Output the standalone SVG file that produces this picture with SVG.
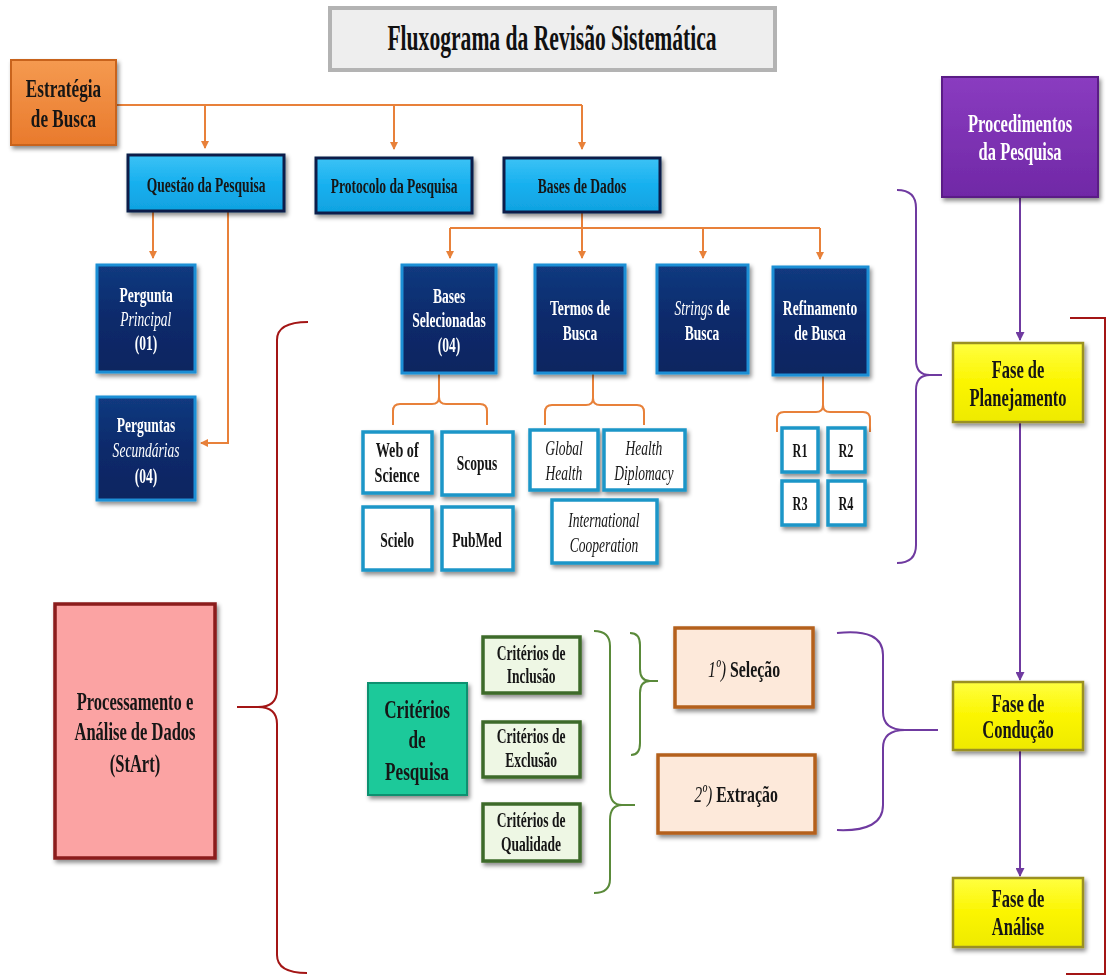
<svg xmlns="http://www.w3.org/2000/svg" width="1108" height="977" viewBox="0 0 1108 977">
<style>
.t{font-family:"Liberation Serif","Times New Roman",serif;font-weight:bold;text-anchor:middle;fill:#151515;transform-box:fill-box;transform-origin:center;transform:scaleX(0.66)}
.ti{font-family:"Liberation Serif","Times New Roman",serif;font-weight:bold;text-anchor:middle;fill:#111;font-size:36px;transform-box:fill-box;transform-origin:center;transform:scaleX(0.6)}
.w{fill:#fff}
.it{font-style:italic;font-weight:normal}
.s19{font-size:20.5px}.s20{font-size:21.5px}.s22{font-size:24px}.s23{font-size:25px}.s24{font-size:26px}.s17{font-size:18.5px}
.cyan{fill:url(#gCyan);stroke:#0b1f4a;stroke-width:3}
.navy{fill:url(#gNavy);stroke:#1d8fd5;stroke-width:3}
.wb{fill:#fff;stroke:#1e96c8;stroke-width:3.5}
.yel{fill:url(#gYel);stroke:#9a9020;stroke-width:2.5}
.grn{fill:#eef7e4;stroke:#3d6b2a;stroke-width:3.5}
.pch{fill:#fde9da;stroke:#b4601c;stroke-width:3.5}
.oc{fill:none;stroke:#e8813a;stroke-width:2}
.pc{fill:none;stroke:#6f3aa0;stroke-width:2}
.rc{fill:none;stroke:#a31515;stroke-width:2}
.gc{fill:none;stroke:#5a8a3a;stroke-width:2}
</style>
<defs>
<filter id="sh" x="-20%" y="-20%" width="150%" height="150%"><feDropShadow dx="2" dy="3" stdDeviation="2" flood-color="#000" flood-opacity="0.45"/></filter>
<linearGradient id="gCyan" x1="0" y1="0" x2="0" y2="1"><stop offset="0" stop-color="#3cc2f5"/><stop offset="0.5" stop-color="#17b0ef"/><stop offset="1" stop-color="#10a2e0"/></linearGradient>
<linearGradient id="gNavy" x1="0" y1="0" x2="0" y2="1"><stop offset="0" stop-color="#123a80"/><stop offset="0.5" stop-color="#0c2a6b"/><stop offset="1" stop-color="#0a2560"/></linearGradient>
<linearGradient id="gYel" x1="0" y1="0" x2="0" y2="1"><stop offset="0" stop-color="#ffff40"/><stop offset="0.5" stop-color="#fbf500"/><stop offset="1" stop-color="#eeea00"/></linearGradient>
<linearGradient id="gOr" x1="0" y1="0" x2="0" y2="1"><stop offset="0" stop-color="#f59a50"/><stop offset="1" stop-color="#e97a2c"/></linearGradient>
<linearGradient id="gPur" x1="0" y1="0" x2="0" y2="1"><stop offset="0" stop-color="#8a3cc0"/><stop offset="1" stop-color="#7028a6"/></linearGradient>
<marker id="ao" markerWidth="8" markerHeight="8" refX="7" refY="4" orient="auto" markerUnits="userSpaceOnUse"><path d="M0,0 L8,4 L0,8 Z" fill="#e8813a"/></marker>
<marker id="ap" markerWidth="9" markerHeight="9" refX="8" refY="4.5" orient="auto" markerUnits="userSpaceOnUse"><path d="M0,0 L9,4.5 L0,9 Z" fill="#6f3aa0"/></marker>
</defs>
<rect width="1108" height="977" fill="#fff"/>

<g id="connectors">
<path class="oc" d="M116,105 H582"/>
<path class="oc" d="M205,105 V148" marker-end="url(#ao)"/>
<path class="oc" d="M394,105 V149" marker-end="url(#ao)"/>
<path class="oc" d="M582,105 V149" marker-end="url(#ao)"/>
<path class="oc" d="M153,211 V258" marker-end="url(#ao)"/>
<path class="oc" d="M228,211 V443 H201" marker-end="url(#ao)"/>
<path class="oc" d="M582,212 V228"/>
<path class="oc" d="M450,228 H820"/>
<path class="oc" d="M450,228 V258" marker-end="url(#ao)"/>
<path class="oc" d="M582,228 V258" marker-end="url(#ao)"/>
<path class="oc" d="M703,228 V258" marker-end="url(#ao)"/>
<path class="oc" d="M820,228 V259" marker-end="url(#ao)"/>
<path class="oc" d="M393,425 V411 Q393,404 400,404 H432 Q439,404 439,397 V374 M439,397 Q439,404 446,404 H480 Q487,404 487,411 V425"/>
<path class="oc" d="M545,425 V412 Q545,405 552,405 H586 Q593,405 593,398 V374 M593,398 Q593,405 600,405 H637 Q644,405 644,412 V425"/>
<path class="oc" d="M777,432 V419 Q777,412 784,412 H816 Q823,412 823,405 V376 M823,405 Q823,412 830,412 H863 Q870,412 870,419 V432"/>
<path class="pc" d="M1020,197 V340" marker-end="url(#ap)"/>
<path class="pc" d="M1020,422 V680" marker-end="url(#ap)"/>
<path class="pc" d="M1020,750 V876" marker-end="url(#ap)"/>
<path class="pc" d="M897,190 Q916,190 916,208 V360 Q916,375 930,375 H942 M930,375 Q916,375 916,390 V545 Q916,563 897,563"/>
<path class="pc" d="M837,633 Q883,628 883,655 V712 Q883,730 905,730 H938 M905,730 Q883,730 883,748 V805 Q883,832 837,830"/>
<path class="rc" d="M308,322 Q277,322 277,340 V690 Q277,707 258,707 H237 M258,707 Q277,707 277,724 V955 Q277,973 307,973"/>
<path class="rc" d="M1070,318 H1105 V974 H1066"/>
<path class="gc" d="M594,631 Q610,631 610,646 V790 Q610,805 622,805 H635 M622,805 Q610,805 610,820 V879 Q610,893 594,893"/>
<path class="gc" d="M630,633 Q640,633 640,645 V669 Q640,681 650,681 H658 M650,681 Q640,681 640,693 V743 Q640,755 631,755"/>
</g>

<g id="title">
<rect x="330" y="8" width="445" height="62" fill="#eeeeee" stroke="#b3b3b3" stroke-width="4"/>
<text class="ti" x="552" y="50">Fluxograma da Revisão Sistemática</text>
</g>

<g id="estrategia" filter="url(#sh)">
<rect x="11" y="60" width="105" height="85" fill="url(#gOr)" stroke="#c8641e" stroke-width="2"/>
<text class="t s24" x="63.5" y="97">Estratégia</text>
<text class="t s24" x="63.5" y="127">de Busca</text>
</g>

<g id="questao" filter="url(#sh)">
<rect class="cyan" x="128" y="155" width="156" height="56"/>
<text class="t s19" x="206" y="192">Questão da Pesquisa</text>
</g>
<g id="protocolo" filter="url(#sh)">
<rect class="cyan" x="316" y="158" width="156" height="55"/>
<text class="t s19" x="394" y="193">Protocolo da Pesquisa</text>
</g>
<g id="basesdados" filter="url(#sh)">
<rect class="cyan" x="504" y="158" width="156" height="54"/>
<text class="t s19" x="582" y="193">Bases de Dados</text>
</g>

<g id="procedimentos" filter="url(#sh)">
<rect x="942" y="77" width="156" height="120" fill="url(#gPur)" stroke="#5a1f86" stroke-width="2"/>
<text class="t s23 w" x="1020" y="132">Procedimentos</text>
<text class="t s23 w" x="1020" y="160">da Pesquisa</text>
</g>

<g id="pergunta-principal" filter="url(#sh)">
<rect class="navy" x="97" y="265" width="98" height="107"/>
<text class="t s19 w" x="146" y="302">Pergunta</text>
<text class="t s19 w it" x="146" y="326">Principal</text>
<text class="t s19 w" x="146" y="350">(01)</text>
</g>
<g id="perguntas-secundarias" filter="url(#sh)">
<rect class="navy" x="97" y="397" width="98" height="103"/>
<text class="t s19 w" x="146" y="432">Perguntas</text>
<text class="t s19 w it" x="146" y="457">Secundárias</text>
<text class="t s19 w" x="146" y="483">(04)</text>
</g>

<g id="bases-selecionadas" filter="url(#sh)">
<rect class="navy" x="402" y="265" width="94" height="108"/>
<text class="t s19 w" x="449" y="303">Bases</text>
<text class="t s19 w" x="449" y="327">Selecionadas</text>
<text class="t s19 w" x="449" y="352">(04)</text>
</g>
<g id="termos" filter="url(#sh)">
<rect class="navy" x="535" y="265" width="90" height="108"/>
<text class="t s19 w" x="580" y="315">Termos de</text>
<text class="t s19 w" x="580" y="340">Busca</text>
</g>
<g id="strings" filter="url(#sh)">
<rect class="navy" x="657" y="265" width="91" height="108"/>
<text class="t s19 w" x="702" y="315"><tspan class="it">Strings</tspan> de</text>
<text class="t s19 w" x="702" y="340">Busca</text>
</g>
<g id="refinamento" filter="url(#sh)">
<rect class="navy" x="773" y="267" width="95" height="108"/>
<text class="t s19 w" x="820" y="315">Refinamento</text>
<text class="t s19 w" x="820" y="340">de Busca</text>
</g>

<g id="web-of-science" filter="url(#sh)">
<rect class="wb" x="363" y="432" width="69" height="61"/>
<text class="t s20" x="397" y="457">Web of</text>
<text class="t s20" x="397" y="482">Science</text>
</g>
<g id="scopus" filter="url(#sh)">
<rect class="wb" x="442" y="432" width="71" height="63"/>
<text class="t s19" x="477" y="470">Scopus</text>
</g>
<g id="scielo" filter="url(#sh)">
<rect class="wb" x="363" y="507" width="69" height="63"/>
<text class="t s19" x="397" y="547">Scielo</text>
</g>
<g id="pubmed" filter="url(#sh)">
<rect class="wb" x="442" y="507" width="71" height="63"/>
<text class="t s19" x="477" y="547">PubMed</text>
</g>

<g id="global-health" filter="url(#sh)">
<rect class="wb" x="530" y="430" width="68" height="60"/>
<text class="t s19 it" x="564" y="455">Global</text>
<text class="t s19 it" x="564" y="480">Health</text>
</g>
<g id="health-diplomacy" filter="url(#sh)">
<rect class="wb" x="604" y="430" width="81" height="60"/>
<text class="t s19 it" x="644" y="455">Health</text>
<text class="t s19 it" x="644" y="480">Diplomacy</text>
</g>
<g id="international-cooperation" filter="url(#sh)">
<rect class="wb" x="552" y="500" width="105" height="63"/>
<text class="t s19 it" x="604" y="527">International</text>
<text class="t s19 it" x="604" y="552">Cooperation</text>
</g>

<g id="r1" filter="url(#sh)"><rect class="wb" x="782" y="428" width="36" height="44"/><text class="t s17" x="800" y="457">R1</text></g>
<g id="r2" filter="url(#sh)"><rect class="wb" x="828" y="428" width="37" height="44"/><text class="t s17" x="846" y="457">R2</text></g>
<g id="r3" filter="url(#sh)"><rect class="wb" x="782" y="481" width="36" height="44"/><text class="t s17" x="800" y="510">R3</text></g>
<g id="r4" filter="url(#sh)"><rect class="wb" x="828" y="481" width="37" height="44"/><text class="t s17" x="846" y="510">R4</text></g>

<g id="fase-planejamento" filter="url(#sh)">
<rect class="yel" x="953" y="343" width="130" height="79"/>
<text class="t s23" x="1018" y="378">Fase de</text>
<text class="t s23" x="1018" y="406">Planejamento</text>
</g>
<g id="fase-conducao" filter="url(#sh)">
<rect class="yel" x="953" y="682" width="130" height="68"/>
<text class="t s23" x="1018" y="712">Fase de</text>
<text class="t s23" x="1018" y="738">Condução</text>
</g>
<g id="fase-analise" filter="url(#sh)">
<rect class="yel" x="953" y="878" width="130" height="69"/>
<text class="t s23" x="1018" y="907">Fase de</text>
<text class="t s23" x="1018" y="935">Análise</text>
</g>

<g id="processamento" filter="url(#sh)">
<rect x="55" y="604" width="160" height="254" fill="#fba3a3" stroke="#8b1a1a" stroke-width="3.5"/>
<text class="t s23" x="135" y="710">Processamento e</text>
<text class="t s23" x="135" y="740">Análise de Dados</text>
<text class="t s23" x="135" y="772">(StArt)</text>
</g>

<g id="criterios-pesquisa" filter="url(#sh)">
<rect x="368" y="683" width="99" height="112" fill="#1fc99a" stroke="#119070" stroke-width="2"/>
<text class="t s24" x="417" y="718">Critérios</text>
<text class="t s24" x="417" y="748">de</text>
<text class="t s24" x="417" y="780">Pesquisa</text>
</g>

<g id="criterios-inclusao" filter="url(#sh)">
<rect class="grn" x="483" y="637" width="97" height="56"/>
<text class="t s19" x="531" y="660">Critérios de</text>
<text class="t s19" x="531" y="683">Inclusão</text>
</g>
<g id="criterios-exclusao" filter="url(#sh)">
<rect class="grn" x="483" y="722" width="97" height="55"/>
<text class="t s19" x="531" y="743">Critérios de</text>
<text class="t s19" x="531" y="767">Exclusão</text>
</g>
<g id="criterios-qualidade" filter="url(#sh)">
<rect class="grn" x="483" y="804" width="97" height="57"/>
<text class="t s19" x="531" y="827">Critérios de</text>
<text class="t s19" x="531" y="851">Qualidade</text>
</g>

<g id="selecao" filter="url(#sh)">
<rect class="pch" x="675" y="628" width="138" height="79"/>
<text class="t s22" x="744" y="677"><tspan class="it">1º)</tspan> Seleção</text>
</g>
<g id="extracao" filter="url(#sh)">
<rect class="pch" x="658" y="755" width="157" height="78"/>
<text class="t s22" x="736" y="802"><tspan class="it">2º)</tspan> Extração</text>
</g>
</svg>
